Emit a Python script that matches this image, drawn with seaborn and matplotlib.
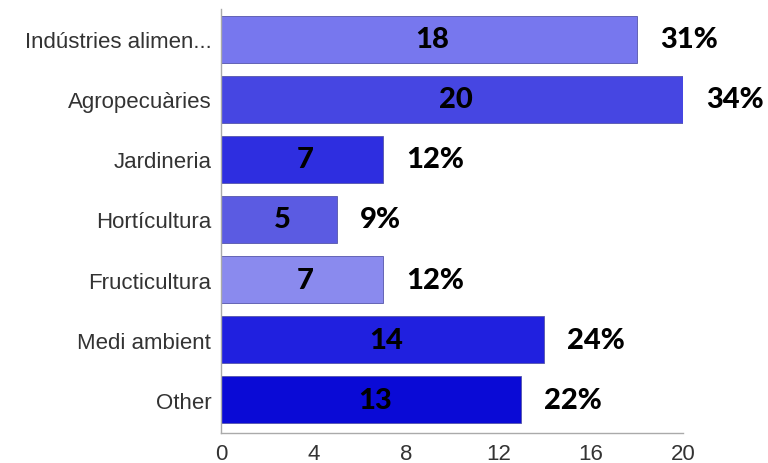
import matplotlib
matplotlib.use("Agg")
import matplotlib.pyplot as plt
import seaborn as sns
import pandas as pd

categories = ["Indústries alimen...", "Agropecuàries", "Jardineria", "Hortícultura",
              "Fructicultura", "Medi ambient", "Other"]
counts = [18, 20, 7, 5, 7, 14, 13]
percents = ["31%", "34%", "12%", "9%", "12%", "24%", "22%"]
colors = ["#7777EE", "#4646E2", "#2E2EE0", "#5B5BE2", "#8A8AEE", "#2020DF", "#0A0AD6"]
xticks = [0, 4, 8, 12, 16, 20]

sns.set_theme(style="white")
plt.rcParams['font.family'] = ['Liberation Sans', 'DejaVu Sans']

df = pd.DataFrame({"cat": categories, "n": counts})

fig = plt.figure(figsize=(7.68, 4.64), dpi=100)
ax = fig.add_axes([221/768, 1 - 434/464, (683 - 221)/768, (434 - 10)/464])

sns.barplot(data=df, y="cat", x="n", hue="cat", palette=colors, dodge=False,
            legend=False, ax=ax, width=0.78, orient="h", saturation=1,
            edgecolor="#5555aa", linewidth=0.6)

ax.set_xlim(0, 20)
ax.set_ylim(6.55, -0.5)
ax.set_xticks(xticks)
ax.set_xticklabels([str(t) for t in xticks])
ax.set_xlabel("")
ax.set_ylabel("")
for s in ["top", "right"]:
    ax.spines[s].set_visible(False)
for s in ["left", "bottom"]:
    ax.spines[s].set_color("#aaaaaa")
    ax.spines[s].set_linewidth(1)
ax.tick_params(axis="both", which="both", length=5, width=1, color="#999999",
               labelsize=16, labelcolor="#333333", pad=2)
ax.tick_params(axis="x", pad=2)

for i, (n, p) in enumerate(zip(counts, percents)):
    ax.text(n / 2 + 0.15, i, str(n), ha="center", va="center", fontsize=21,
            fontweight="black", family=["Lato", "DejaVu Sans"], color="black")
    ax.text(n + 1.0, i, p, ha="left", va="center", fontsize=21,
            fontweight="black", family=["Lato", "DejaVu Sans"], color="black",
            clip_on=False)

fig.savefig("out.png", dpi=100)
